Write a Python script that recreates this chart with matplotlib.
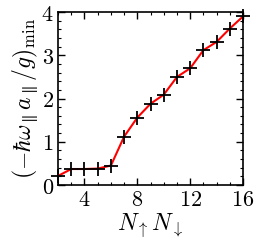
import matplotlib
matplotlib.use("Agg")
import matplotlib.pyplot as plt
from matplotlib.ticker import MultipleLocator

plt.rcParams['mathtext.fontset'] = 'cm'
plt.rcParams['font.family'] = 'serif'
plt.rcParams['font.serif'] = ['DejaVu Serif']

# N_up * N_down and minimal interaction strength
n_prod = [2, 3, 4, 5, 6, 7, 8, 9, 10, 11, 12, 13, 14, 15, 16]
g_min = [0.21, 0.37, 0.37, 0.38, 0.45, 1.12, 1.56, 1.88, 2.09, 2.5, 2.7, 3.12, 3.31, 3.62, 3.9]

fig = plt.figure(figsize=(2.58, 2.47), dpi=100)
ax = fig.add_axes([0.225, 0.251, 0.717, 0.70])

ax.plot(n_prod, g_min, color='red', lw=1.5, zorder=2)
ax.plot(n_prod, g_min, ls='none', marker='+', color='black', ms=10, mew=1.3,
        zorder=3, clip_on=False)

ax.set_xlim(2, 16)
ax.set_ylim(0, 4)
ax.xaxis.set_major_locator(MultipleLocator(4))
ax.xaxis.set_minor_locator(MultipleLocator(1))
ax.yaxis.set_major_locator(MultipleLocator(1))
ax.yaxis.set_minor_locator(MultipleLocator(0.2))
ax.tick_params(which='both', direction='in', top=True, right=True, labelsize=16)
ax.tick_params(which='major', length=5, width=1, pad=3)
ax.tick_params(which='minor', length=2.5, width=0.8)
ax.xaxis.set_major_formatter(plt.FuncFormatter(lambda v, p: r'$%d$' % v))
ax.yaxis.set_major_formatter(plt.FuncFormatter(lambda v, p: r'$%d$' % v))
for s in ax.spines.values():
    s.set_linewidth(1.2)

ax.set_xlabel(r'$N_\uparrow N_\downarrow$', fontsize=17, labelpad=0)
ax.set_ylabel(r'$(-\hbar\omega_\parallel a_\parallel/g)_{\rm min}$', fontsize=17, labelpad=1)

fig.savefig('out.png', dpi=100)
